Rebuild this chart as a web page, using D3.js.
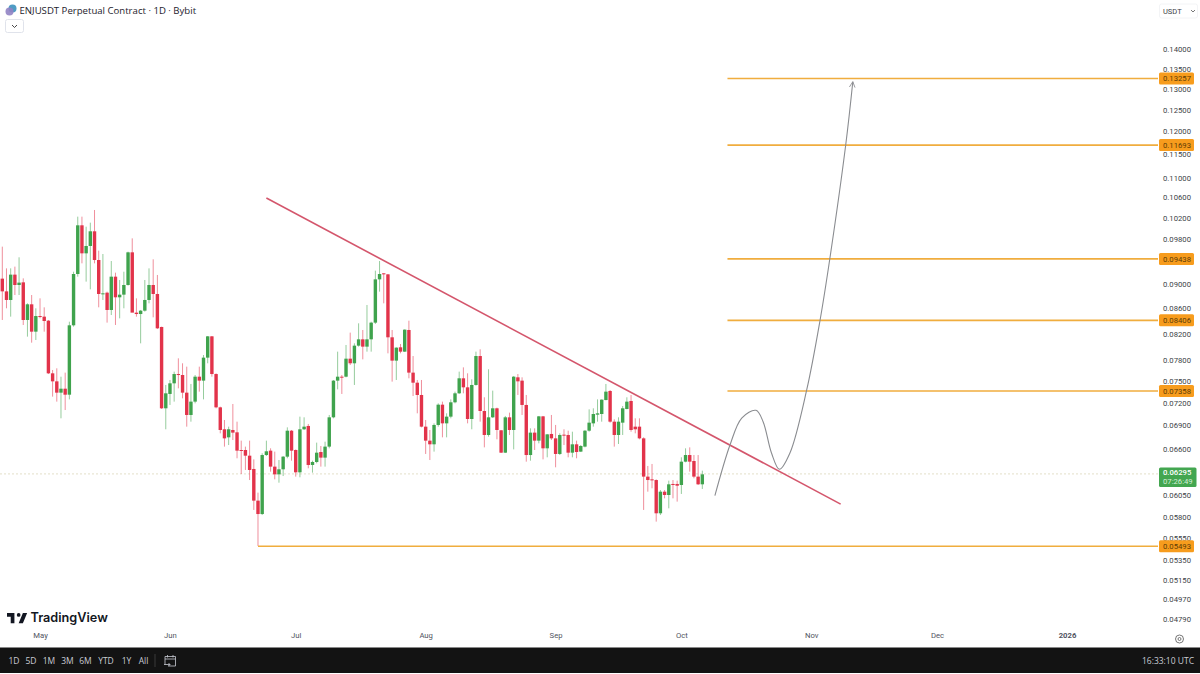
<!DOCTYPE html>
<html>
<head>
<meta charset="utf-8">
<script src="https://cdn.jsdelivr.net/npm/d3@7"></script>
<style>
  html, body { margin: 0; padding: 0; background: #fff; }
  svg { display: block; font-family: "Open Sans", "Noto Sans", sans-serif; }
</style>
</head>
<body>
<script>
// daily candles, first one is 22 Apr 2025
var firstDay = new Date(2025, 3, 22);

var opens = [
  0.09093,0.08878,0.08735,0.09162,0.08985,0.09030,0.08412,0.08664,0.08229,0.08475,0.08465,0.08401,0.07608,0.07494,0.07336,0.07391,0.07308,0.08328,0.09173,0.10054,0.09537,0.09670,0.09941,0.09418,
  0.08834,0.08856,0.08572,0.09127,0.08779,0.08823,0.08985,0.09555,0.08529,0.08507,0.08561,0.08735,0.08985,0.08834,0.08302,0.07123,0.07318,0.07466,0.07598,0.07584,0.07336,0.07034,0.07213,0.07560,
  0.07504,0.07836,0.08157,0.07598,0.07136,0.06847,0.06744,0.06838,0.06808,0.06585,0.06585,0.06515,0.06354,0.05986,0.05837,0.06523,0.06577,0.06382,0.06290,0.06350,0.06503,0.06829,0.06585,0.06314,
  0.06847,0.06890,0.06402,0.06438,0.06560,0.06491,0.06627,0.07003,0.07504,0.07560,0.07560,0.07821,0.07753,0.08015,0.08111,0.08000,0.08111,0.08370,0.09081,0.09185,0.09167,0.08142,0.07792,0.07990,
  0.07925,0.08255,0.07618,0.07475,0.07304,0.06881,0.06702,0.06656,0.06903,0.07172,0.06924,0.07012,0.07204,0.07327,0.07537,0.07410,0.06981,0.07443,0.07860,0.07087,0.06774,0.07003,0.07123,0.06834,
  0.06552,0.07003,0.06838,0.07551,0.07504,0.07168,0.06523,0.06804,0.06702,0.07016,0.06606,0.06787,0.06731,0.06536,0.06778,0.06774,0.06552,0.06656,0.06565,0.06627,0.06829,0.06924,0.07038,0.07047,
  0.07235,0.07359,0.06946,0.06774,0.06933,0.07114,0.07222,0.06881,0.06881,0.06731,0.06263,0.06231,0.06223,0.05845,0.06088,0.06050,0.06177,0.06177,0.06165,0.06442,0.06523,0.06450,0.06263,0.06173
];
var highs = [
  0.09658,0.09271,0.09271,0.09301,0.09466,0.09098,0.08680,0.08817,0.08599,0.08762,0.08615,0.08412,0.07656,0.07680,0.07560,0.07618,0.08385,0.09213,0.10219,0.10219,0.10028,0.10104,0.10348,0.09585,
  0.09525,0.08873,0.09400,0.09196,0.09070,0.09213,0.09567,0.09810,0.08762,0.08572,0.09070,0.09271,0.09430,0.09156,0.08307,0.07443,0.07513,0.07632,0.07826,0.07753,0.07704,0.07457,0.07584,0.07704,
  0.07875,0.08162,0.08162,0.07608,0.07145,0.06968,0.06881,0.07181,0.06946,0.06702,0.06627,0.06702,0.06470,0.06077,0.06544,0.06702,0.06606,0.06565,0.06462,0.06511,0.06872,0.06838,0.06593,0.07012,
  0.07003,0.06916,0.06454,0.06677,0.06635,0.06689,0.07034,0.07513,0.07925,0.07584,0.08025,0.08214,0.08050,0.08359,0.08255,0.08653,0.08385,0.09231,0.09400,0.09185,0.09173,0.08255,0.07990,0.08040,
  0.08265,0.08401,0.07860,0.07513,0.07513,0.06968,0.06838,0.06924,0.07190,0.07213,0.07056,0.07244,0.07350,0.07632,0.07694,0.07608,0.07523,0.07925,0.07960,0.07272,0.07666,0.07364,0.07132,0.06838,
  0.07021,0.07065,0.07570,0.07598,0.07551,0.07304,0.06859,0.06859,0.07021,0.07021,0.06787,0.07034,0.06903,0.06795,0.06847,0.06829,0.06816,0.06702,0.06647,0.06838,0.07109,0.07123,0.07244,0.07244,
  0.07457,0.07373,0.06977,0.07003,0.07154,0.07272,0.07304,0.06990,0.06990,0.06744,0.06390,0.06414,0.06231,0.06107,0.06107,0.06216,0.06223,0.06216,0.06495,0.06606,0.06618,0.06523,0.06523,0.06334
];
var lows = [
  0.08412,0.08599,0.08465,0.08817,0.08817,0.08333,0.08152,0.08060,0.08101,0.08438,0.08229,0.07598,0.07281,0.07213,0.06990,0.07100,0.07244,0.08307,0.09127,0.09359,0.09042,0.08912,0.09359,0.08615,
  0.08735,0.08370,0.08491,0.08333,0.08438,0.08599,0.08974,0.09518,0.08465,0.08050,0.08545,0.08680,0.08454,0.08270,0.07114,0.06847,0.07168,0.07213,0.07396,0.07258,0.06881,0.06946,0.07190,0.07350,
  0.07244,0.07753,0.07560,0.07123,0.06795,0.06627,0.06647,0.06710,0.06483,0.06294,0.06342,0.06223,0.05882,0.05496,0.05826,0.06511,0.06322,0.06231,0.06192,0.06270,0.06483,0.06454,0.06263,0.06255,
  0.06838,0.06362,0.06310,0.06422,0.06382,0.06382,0.06606,0.06990,0.07382,0.07318,0.07551,0.07728,0.07443,0.08000,0.07811,0.07925,0.07925,0.08349,0.08873,0.08680,0.07900,0.07490,0.07513,0.07900,
  0.07920,0.07537,0.07290,0.07056,0.06872,0.06536,0.06462,0.06565,0.06881,0.06744,0.06744,0.06990,0.07190,0.07318,0.07327,0.06924,0.06847,0.07433,0.06946,0.06618,0.06753,0.06994,0.06719,0.06548,
  0.06548,0.06774,0.06593,0.07304,0.07034,0.06442,0.06454,0.06585,0.06668,0.06470,0.06495,0.06710,0.06374,0.06523,0.06647,0.06495,0.06495,0.06483,0.06560,0.06618,0.06816,0.06881,0.06946,0.06946,
  0.07231,0.06933,0.06627,0.06660,0.06774,0.07109,0.06816,0.06795,0.06719,0.05882,0.06088,0.06127,0.05754,0.05826,0.06012,0.05900,0.06012,0.05975,0.06062,0.06434,0.06322,0.06243,0.06165,0.06119
];
var closes = [
  0.08878,0.08735,0.09162,0.08985,0.09025,0.08412,0.08664,0.08229,0.08475,0.08465,0.08396,0.07608,0.07494,0.07336,0.07391,0.07308,0.08328,0.09173,0.10054,0.09537,0.09670,0.09941,0.09418,0.08834,
  0.08845,0.08572,0.09127,0.08779,0.08823,0.08985,0.09555,0.08529,0.08507,0.08561,0.08735,0.08985,0.08834,0.08281,0.07123,0.07327,0.07466,0.07598,0.07584,0.07336,0.07034,0.07213,0.07560,0.07504,
  0.07836,0.08157,0.07598,0.07136,0.06838,0.06731,0.06847,0.06804,0.06577,0.06577,0.06515,0.06342,0.05986,0.05837,0.06523,0.06569,0.06382,0.06290,0.06350,0.06503,0.06829,0.06577,0.06314,0.06847,
  0.06881,0.06402,0.06438,0.06552,0.06491,0.06627,0.07003,0.07504,0.07560,0.07551,0.07821,0.07753,0.08015,0.08111,0.08000,0.08111,0.08370,0.09081,0.09173,0.09167,0.08142,0.07792,0.07985,0.07925,
  0.08260,0.07618,0.07475,0.07304,0.06881,0.06702,0.06656,0.06903,0.07172,0.06924,0.07012,0.07204,0.07327,0.07537,0.07410,0.06981,0.07443,0.07860,0.07087,0.06774,0.07003,0.07123,0.06838,0.06552,
  0.07003,0.06838,0.07560,0.07494,0.07168,0.06523,0.06804,0.06702,0.07016,0.06606,0.06782,0.06731,0.06536,0.06774,0.06770,0.06552,0.06656,0.06560,0.06635,0.06829,0.06933,0.07047,0.07056,0.07240,
  0.07350,0.06946,0.06774,0.06946,0.07123,0.07213,0.06838,0.06847,0.06731,0.06263,0.06223,0.06223,0.05845,0.06088,0.06050,0.06173,0.06165,0.06157,0.06442,0.06523,0.06442,0.06263,0.06173,0.06290
];

// price levels drawn on the chart
var levelPrices = [0.13257, 0.11693, 0.09438, 0.08406, 0.07358];
var levelStart = new Date(2025, 9, 12);
var supportPrice = 0.05493;
var supportStart = new Date(2025, 5, 22);
var lastPrice = 0.06295;
var countdown = "07:26:49";

// trend line ends
var trendDates = [new Date(2025, 5, 24), new Date(2025, 10, 8)];
var trendPrices = [0.10584, 0.05947];

// projected path, days after firstDay
var pathDays = [170.0, 173.6, 176.4, 179.8, 181.5, 183.5, 185.4, 187.9, 191.9, 195.1, 197.4, 201.2, 202.9];
var pathPrices = [0.06042, 0.06647, 0.06994, 0.07096, 0.06946, 0.06548, 0.06350, 0.06548, 0.07373, 0.08412, 0.09431, 0.11689, 0.13176];

var priceTicks = [0.14, 0.135, 0.13, 0.125, 0.12, 0.115, 0.11, 0.106, 0.102, 0.098, 0.09, 0.086, 0.082, 0.078, 0.075, 0.072, 0.069, 0.066, 0.0605, 0.058, 0.0555, 0.0535, 0.0515, 0.0497, 0.0479];
var monthTicks = [new Date(2025, 4, 1), new Date(2025, 5, 1), new Date(2025, 6, 1), new Date(2025, 7, 1), new Date(2025, 8, 1), new Date(2025, 9, 1), new Date(2025, 10, 1), new Date(2025, 11, 1), new Date(2026, 0, 1)];
var rangeButtons = ["1D", "5D", "1M", "3M", "6M", "YTD", "1Y", "All"];
var rangeButtonX = [14, 31, 49, 67.5, 85.5, 106, 126.5, 143.5];

var svgWidth = 1200;
var svgHeight = 674;
var paneRight = 1158;
var green = "#3fa34d";
var red = "#e2334a";
var gold = "#f0ad3e";
var axisFont = "Roboto, 'Open Sans', sans-serif";

var svg = d3.select("body").append("svg")
  .attr("width", svgWidth)
  .attr("height", svgHeight);

var x = d3.scaleTime()
  .domain([firstDay, new Date(2026, 0, 1)])
  .range([2.3, 1067]);

var y = d3.scaleLog()
  .domain([0.14, 0.0479])
  .range([49.5, 619]);

function dayOffset(n) {
  return new Date(firstDay.getTime() + n * 864e5);
}

var candles = opens.map(function(o, i) {
  return { date: dayOffset(i), open: o, high: highs[i], low: lows[i], close: closes[i] };
});

// last price line sits under everything
svg.append("line")
  .attr("x1", 0)
  .attr("x2", paneRight)
  .attr("y1", y(lastPrice))
  .attr("y2", y(lastPrice))
  .attr("stroke", "#e3dfc8")
  .attr("stroke-dasharray", "2,2")
  .attr("stroke-width", 1);

var candleGroup = svg.append("g");

candleGroup.selectAll(".wick")
  .data(candles)
  .enter()
  .append("line")
  .attr("class", "wick")
  .attr("x1", d => x(d.date))
  .attr("x2", d => x(d.date))
  .attr("y1", d => y(d.high))
  .attr("y2", d => y(d.low))
  .attr("stroke", d => d.close >= d.open ? green : red)
  .attr("stroke-opacity", 0.55)
  .attr("stroke-width", 1);

candleGroup.selectAll(".body")
  .data(candles)
  .enter()
  .append("rect")
  .attr("class", "body")
  .attr("x", d => x(d.date) - 1.7)
  .attr("width", 3.4)
  .attr("y", d => y(Math.max(d.open, d.close)))
  .attr("height", d => Math.max(1, y(Math.min(d.open, d.close)) - y(Math.max(d.open, d.close))))
  .attr("fill", d => d.close >= d.open ? green : red);

// horizontal levels
svg.selectAll(".level")
  .data(levelPrices)
  .enter()
  .append("line")
  .attr("class", "level")
  .attr("x1", x(levelStart))
  .attr("x2", paneRight)
  .attr("y1", d => y(d))
  .attr("y2", d => y(d))
  .attr("stroke", gold)
  .attr("stroke-width", 1.6);

svg.append("line")
  .attr("x1", x(supportStart))
  .attr("x2", paneRight)
  .attr("y1", y(supportPrice))
  .attr("y2", y(supportPrice))
  .attr("stroke", gold)
  .attr("stroke-width", 1.6);

// trend line
svg.append("line")
  .attr("x1", x(trendDates[0]))
  .attr("y1", y(trendPrices[0]))
  .attr("x2", x(trendDates[1]))
  .attr("y2", y(trendPrices[1]))
  .attr("stroke", "#d4566c")
  .attr("stroke-width", 1.6);

// projected path with arrow
svg.append("defs").append("marker")
  .attr("id", "arrow")
  .attr("viewBox", "0 0 10 10")
  .attr("refX", 9)
  .attr("refY", 5)
  .attr("markerUnits", "userSpaceOnUse")
  .attr("markerWidth", 7)
  .attr("markerHeight", 7)
  .attr("orient", "auto")
  .append("path")
  .attr("d", "M1,1 L9,5 L1,9")
  .attr("fill", "none")
  .attr("stroke", "#8a8c90")
  .attr("stroke-width", 1.2);

var pathLine = d3.line()
  .x(d => x(dayOffset(d)))
  .y((d, i) => y(pathPrices[i]))
  .curve(d3.curveCatmullRom);

svg.append("path")
  .attr("d", pathLine(pathDays))
  .attr("fill", "none")
  .attr("stroke", "#8a8c90")
  .attr("stroke-width", 1.1)
  .attr("marker-end", "url(#arrow)");

// price axis
var priceAxis = d3.axisRight(y)
  .tickValues(priceTicks)
  .tickSize(0)
  .tickPadding(5)
  .tickFormat(d3.format(".5f"));

var priceG = svg.append("g")
  .attr("transform", `translate(${paneRight}, 0)`)
  .call(priceAxis);
priceG.select(".domain").remove();
priceG.selectAll("text")
  .attr("fill", "#3c3f47")
  .attr("font-size", "7.7px")
  .attr("font-family", axisFont);
// this one is half behind the support tag, lift it clear
priceG.selectAll("text")
  .filter(d => d === 0.0555)
  .attr("dy", "-0.02em");

// orange price tags
var tagPrices = levelPrices.concat([supportPrice]);
var tags = svg.selectAll(".tag")
  .data(tagPrices)
  .enter()
  .append("g")
  .attr("class", "tag")
  .attr("transform", d => `translate(${paneRight}, ${y(d)})`);

tags.append("rect")
  .attr("x", 1)
  .attr("y", -6)
  .attr("width", 35)
  .attr("height", 12)
  .attr("rx", 1.5)
  .attr("fill", "#f79c1d");

tags.append("text")
  .attr("x", 5)
  .attr("y", 3)
  .attr("font-size", "7.7px")
  .attr("font-family", axisFont)
  .attr("fill", "#5c3b05")
  .text(d => d3.format(".5f")(d));

// last price tag
var lastTag = svg.append("g")
  .attr("transform", `translate(${paneRight}, ${y(lastPrice)})`);
lastTag.append("rect")
  .attr("x", 1)
  .attr("y", -6.5)
  .attr("width", 37.5)
  .attr("height", 19.5)
  .attr("rx", 1.5)
  .attr("fill", "#43a650");
lastTag.append("text")
  .attr("x", 5)
  .attr("y", 1.5)
  .attr("font-size", "7.7px")
  .attr("font-family", axisFont)
  .attr("font-weight", 500)
  .attr("fill", "#fff")
  .text(d3.format(".5f")(lastPrice));
lastTag.append("text")
  .attr("x", 5)
  .attr("y", 10.5)
  .attr("font-size", "7.7px")
  .attr("font-family", axisFont)
  .attr("fill", "#d6efd9")
  .text(countdown);

// time axis
var timeAxis = d3.axisBottom(x)
  .tickValues(monthTicks)
  .tickSize(0)
  .tickPadding(0)
  .tickFormat(function(d) {
    return d.getMonth() === 0 ? d.getFullYear() : d3.timeFormat("%b")(d);
  });

var timeG = svg.append("g")
  .attr("transform", "translate(0, 633)")
  .call(timeAxis);
timeG.select(".domain").remove();
timeG.selectAll("text")
  .attr("fill", "#50535e")
  .attr("font-size", "7.7px")
  .attr("font-family", axisFont);
timeG.selectAll("text").filter(d => d.getMonth() === 0).attr("font-weight", 700);

// header
var icon = svg.append("g");
icon.append("circle").attr("cx", 12.5).attr("cy", 8.5).attr("r", 4).attr("fill", "#4f9cc4");
icon.append("circle").attr("cx", 9.5).attr("cy", 11.5).attr("r", 4).attr("fill", "#9183c4").attr("fill-opacity", 0.9);

svg.append("text")
  .attr("x", 19.5)
  .attr("y", 13.5)
  .attr("font-size", "9.6px")
  .attr("font-family", "'Open Sans', sans-serif")
  .attr("fill", "#1e222d")
  .text("ENJUSDT Perpetual Contract · 1D · Bybit");

svg.append("rect")
  .attr("x", 5.5)
  .attr("y", 19.5)
  .attr("width", 18)
  .attr("height", 13)
  .attr("rx", 2)
  .attr("fill", "#fff")
  .attr("stroke", "#e0e3eb");
svg.append("path")
  .attr("d", "M12,25 L14.5,27.5 L17,25")
  .attr("fill", "none")
  .attr("stroke", "#333")
  .attr("stroke-width", 0.9);

// currency button
svg.append("rect")
  .attr("x", 1159.5)
  .attr("y", 4)
  .attr("width", 38)
  .attr("height", 14)
  .attr("rx", 2)
  .attr("fill", "#fff")
  .attr("stroke", "#f3f4f6");
svg.append("text")
  .attr("x", 1163)
  .attr("y", 13.5)
  .attr("font-size", "7.5px")
  .attr("font-family", axisFont)
  .attr("fill", "#3c3f47")
  .text("USDT");
svg.append("path")
  .attr("d", "M1191,10 L1193,12 L1195,10")
  .attr("fill", "none")
  .attr("stroke", "#555")
  .attr("stroke-width", 0.8);

// watermark
var logo = svg.append("g")
  .attr("transform", "translate(7, 611) scale(0.53)")
  .attr("fill", "#131722");
logo.append("path").attr("d", "M14 4H0v7h7v12h7V4Zm16 19h-8l8-19h8l-8 19Z");
logo.append("circle").attr("cx", 22).attr("cy", 7.5).attr("r", 3.5);

svg.append("text")
  .attr("x", 30.5)
  .attr("y", 622)
  .attr("font-size", "12.7px")
  .attr("font-weight", 600)
  .attr("font-family", "Inter, 'Open Sans', sans-serif")
  .attr("fill", "#131722")
  .text("TradingView");

// settings icon by the axis corner
svg.append("circle")
  .attr("cx", 1179.5)
  .attr("cy", 639)
  .attr("r", 4)
  .attr("fill", "none")
  .attr("stroke", "#555")
  .attr("stroke-width", 0.8);
svg.append("circle")
  .attr("cx", 1179.5)
  .attr("cy", 639)
  .attr("r", 1.5)
  .attr("fill", "none")
  .attr("stroke", "#555")
  .attr("stroke-width", 0.8);

// bottom toolbar
svg.append("rect")
  .attr("x", 0)
  .attr("y", 647.5)
  .attr("width", svgWidth)
  .attr("height", 25.5)
  .attr("fill", "#131313");

svg.selectAll(".range")
  .data(rangeButtons)
  .enter()
  .append("text")
  .attr("class", "range")
  .attr("x", (d, i) => rangeButtonX[i])
  .attr("y", 663.5)
  .attr("text-anchor", "middle")
  .attr("font-size", "8.5px")
  .attr("fill", "#c9ccd4")
  .text(d => d);

svg.append("line")
  .attr("x1", 155)
  .attr("x2", 155)
  .attr("y1", 654)
  .attr("y2", 667)
  .attr("stroke", "#3a3a3a");

var cal = svg.append("g")
  .attr("fill", "none")
  .attr("stroke", "#c9ccd4")
  .attr("stroke-width", 0.8);
cal.append("path").attr("d", "M165,664.5 V656.5 H175.5 V666 H168 M165,659 H175.5 M167.5,655 V657.5 M173,655 V657.5 M164,664.5 H170 M168.5,663 L170,664.5 L168.5,666");

svg.append("text")
  .attr("x", 1194)
  .attr("y", 663.5)
  .attr("text-anchor", "end")
  .attr("font-size", "8.5px")
  .attr("fill", "#c9ccd4")
  .text("16:33:10 UTC");
</script>
</body>
</html>
